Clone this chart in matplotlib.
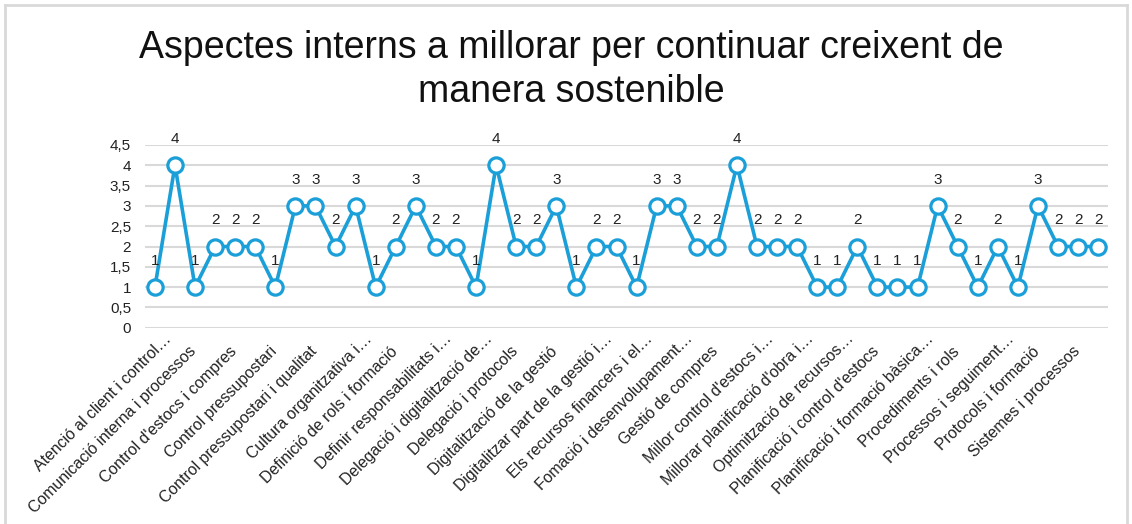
import matplotlib.pyplot as plt
from matplotlib.lines import Line2D
from matplotlib.ticker import FuncFormatter
from matplotlib.transforms import ScaledTranslation

plt.rcParams['font.family'] = ['Liberation Sans', 'DejaVu Sans']

titol = 'Aspectes interns a millorar per continuar creixent de\nmanera sostenible'

# valoració de cada resposta (48 respostes, ordenades alfabèticament)
valors = [1, 4, 1, 2, 2, 2, 1, 3, 3, 2, 3, 1, 2, 3, 2, 2,
          1, 4, 2, 2, 3, 1, 2, 2, 1, 3, 3, 2, 2, 4, 2, 2,
          2, 1, 1, 2, 1, 1, 1, 3, 2, 1, 2, 1, 3, 2, 2, 2]

# l'eix només mostra una etiqueta de cada dues
etiquetes = [
    'Atenció al client i control…',
    'Comunicació interna i processos',
    "Control d'estocs i compres",
    'Control pressupostari',
    'Control pressupostari i qualitat',
    'Cultura organitzativa i…',
    'Definició de rols i formació',
    'Definir responsabilitats i…',
    'Delegació i digitalització de…',
    'Delegació i protocols',
    'Digitalització de la gestió',
    'Digitalitzar part de la gestió i…',
    'Els recursos financers i el…',
    'Fomació i desenvolupament…',
    'Gestió de compres',
    "Millor control d'estocs i…",
    "Millorar planificació d'obra i…",
    'Optimització de recursos…',
    "Planificació i control d'estocs",
    'Planificació i formació bàsica…',
    'Procediments i rols',
    'Processos i seguiment…',
    'Protocols i formació',
    'Sistemes i processos',
]

blau = '#1A9FD8'
gris = '#D9D9D9'

fig = plt.figure(figsize=(11.32, 5.24), dpi=100)
ax = fig.add_axes([0.128, 0.3746, 0.851, 0.3487])

x = list(range(len(valors)))
ax.plot(x, valors, color=blau, linewidth=2.6, marker='o', markersize=11,
        markerfacecolor='white', markeredgecolor=blau, markeredgewidth=2.3,
        zorder=3, clip_on=False)

for xi, v in zip(x, valors):
    ax.annotate(str(v), (xi, v), xytext=(0, 19), textcoords='offset points',
                ha='center', va='center', fontsize=11, color='#222222')

ax.set_xlim(-0.5, len(valors) - 0.5)
ax.set_ylim(0, 4.5)
ax.set_yticks([i * 0.5 for i in range(10)])
ax.yaxis.set_major_formatter(FuncFormatter(lambda v, p: f'{v:g}'.replace('.', ',')))
ax.grid(axis='y', color=gris, linewidth=1.5)
ax.set_axisbelow(True)
for s in ax.spines.values():
    s.set_visible(False)

ax.set_xticks(x[::2])
ax.set_xticklabels(etiquetes, rotation=45, ha='right', va='top',
                   rotation_mode='anchor', fontsize=11.4, color='#222222')
ax.tick_params(axis='both', length=0, colors='#222222')
ax.tick_params(axis='y', pad=10, labelsize=11)
ax.tick_params(axis='x', pad=11.5)

# les etiquetes retallades amb "…" queden una mica més amunt i a la dreta
for lbl in ax.get_xticklabels():
    if lbl.get_text().endswith('…'):
        dx, dy = 6 / 72, 9 / 72
    else:
        dx, dy = -4.5 / 72, 0
    lbl.set_transform(lbl.get_transform() + ScaledTranslation(dx, dy, fig.dpi_scale_trans))

fig.text(0.505, 1 - 70 / 524, titol, ha='center', va='center',
         fontsize=27, color='#111111', linespacing=1.28)

# marc del gràfic
for xs, ys in [((5, 5), (5, 524)), ((5, 1127), (5, 5)), ((1127, 1127), (5, 524))]:
    fig.add_artist(Line2D([a / 1132 for a in xs], [1 - b / 524 for b in ys],
                          color=gris, linewidth=2))

fig.savefig('out.png', dpi=100, facecolor='white')
